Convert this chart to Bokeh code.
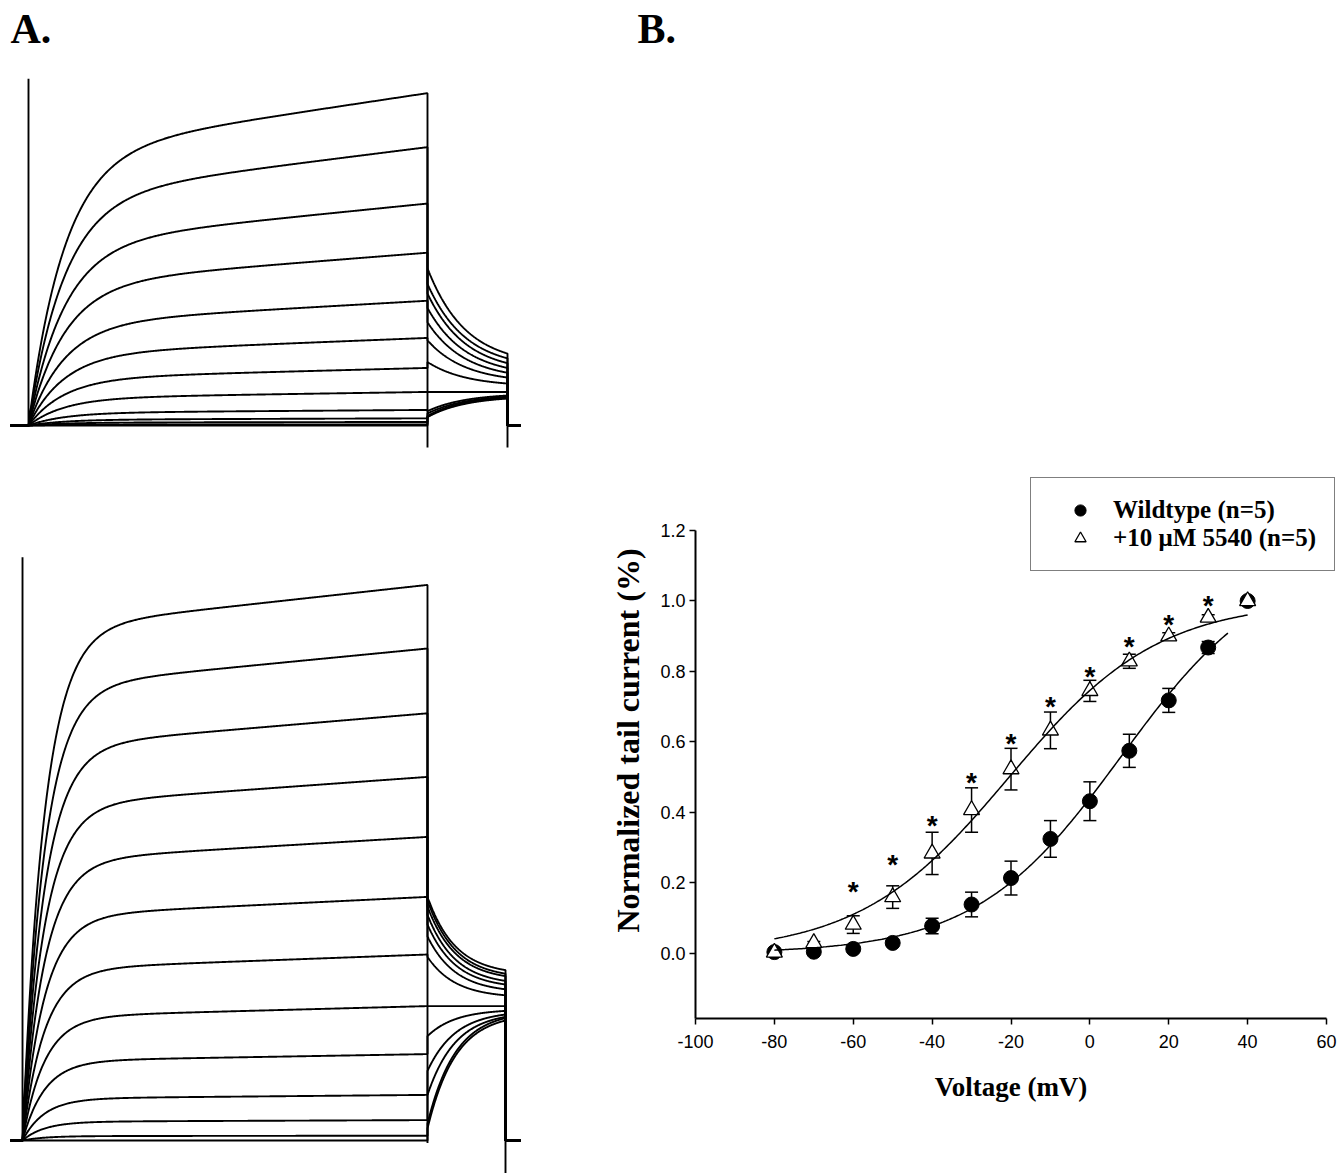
import numpy as np
from bokeh.plotting import figure
from bokeh.models import (Range1d, FixedTicker, PrintfTickFormatter, Whisker, TeeHead, LinearAxis,
                          ColumnDataSource, Label, Legend, LegendItem)
from bokeh.core.properties import value
from bokeh.embed import file_html
from bokeh.resources import INLINE

# ---------------- Panel B data ----------------
voltage = [-80, -70, -60, -50, -40, -30, -20, -10, 0, 10, 20, 30, 40]
wt_mean = [0.004, 0.005, 0.013, 0.030, 0.078, 0.139, 0.214, 0.325, 0.432, 0.575, 0.718, 0.868, 1.0]
wt_sem = [0.003, 0.004, 0.005, 0.008, 0.022, 0.035, 0.048, 0.052, 0.055, 0.047, 0.034, 0.017, 0.0]
drug_mean = [0.003, 0.030, 0.082, 0.160, 0.284, 0.407, 0.523, 0.633, 0.745, 0.829, 0.900, 0.953, 1.0]
drug_sem = [0.004, 0.004, 0.025, 0.032, 0.060, 0.063, 0.059, 0.052, 0.030, 0.020, 0.010, 0.008, 0.0]
star_voltage = [-60, -50, -40, -30, -20, -10, 0, 10, 20, 30]
star_height = [0.195, 0.273, 0.382, 0.506, 0.617, 0.720, 0.807, 0.891, 0.952, 1.008]
# Boltzmann fit parameters
wt_fit = dict(amp=1.12, vhalf=8.0, k=18.5, vmin=-80, vmax=35)
drug_fit = dict(amp=1.00, vhalf=-20.5, k=19.0, vmin=-80, vmax=40)
x_ticks = [-100, -80, -60, -40, -20, 0, 20, 40, 60]
y_ticks = [0.0, 0.2, 0.4, 0.6, 0.8, 1.0, 1.2]
y_axis_bottom = -0.184
legend_labels = ["Wildtype (n=5)", "+10 \u03bcM 5540 (n=5)"]

# ---------------- Panel A data (current families, nA) ----------------
wt_step_end = [2.77, 2.32, 1.85, 1.44, 1.04, 0.73, 0.48, 0.28, 0.13, 0.06, 0.03, 0.01, 0.00]
wt_tail_start = [1.31, 1.18, 1.10, 0.98, 0.86, 0.71, 0.53, 0.28, 0.12, 0.10, 0.08, 0.075, 0.07]
wt_tail_end = [0.60, 0.56, 0.52, 0.48, 0.44, 0.40, 0.35, 0.28, 0.25, 0.24, 0.235, 0.23, 0.225]
drug_step_end = [4.63, 4.10, 3.56, 3.03, 2.53, 2.03, 1.55, 1.12, 0.72, 0.38, 0.17, 0.04, 0.00]
drug_tail_start = [2.03, 2.00, 1.95, 1.88, 1.80, 1.70, 1.53, 1.12, 0.87, 0.58, 0.38, 0.14, 0.10]
drug_tail_end = [1.42, 1.39, 1.37, 1.33, 1.30, 1.26, 1.21, 1.12, 1.08, 1.05, 1.03, 1.02, 1.00]
# kinetics (ms) and capacitive transients (nA)
wt_kin = dict(t0=0, step=2000, tail=401, after=65, act_tau=180, drift=0.18, tail_tau=190,
              spikes=(2.89, -0.183, -0.183))
drug_kin = dict(t0=-30, step=2030, tail=391, after=75, act_tau=110, drift=0.08, tail_tau=140,
                spikes=(4.86, -0.02, -0.30))
panel_offset = dict(wt=5.958, drug=0.0)


def family(step_end, tail_start, tail_end, kin, offset):
    xs, ys = [], []
    t0, dur, tdur = kin["t0"], kin["step"], kin["tail"]
    tau, drift, ttau = kin["act_tau"], kin["drift"], kin["tail_tau"]
    for i, (a, ts, te) in enumerate(zip(step_end, tail_start, tail_end)):
        t_act = np.linspace(0, dur, 500)
        f = (1 - drift) * (1 - np.exp(-t_act / tau)) / (1 - np.exp(-dur / tau)) + drift * t_act / dur
        i_act = a * f
        t_tail = np.linspace(0, tdur, 200)
        g = (np.exp(-t_tail / ttau) - np.exp(-tdur / ttau)) / (1 - np.exp(-tdur / ttau))
        i_tail = te + (ts - te) * g
        x = [-90.0, t0]
        y = [0.0, 0.0]
        if i == 0:
            x += [t0, t0]
            y += [kin["spikes"][0], 0.0]
        x += list(t0 + t_act)
        y += list(i_act)
        t1 = t0 + dur
        if i == 0:
            x += [t1]
            y += [kin["spikes"][1]]
        x += list(t1 + t_tail)
        y += list(i_tail)
        t2 = t1 + tdur
        if i == 0:
            x += [t2]
            y += [kin["spikes"][2]]
        x += [t2, t2 + kin["after"]]
        y += [0.0, 0.0]
        xs.append(x)
        ys.append(list(np.array(y) + offset))
    return xs, ys


# ---------------- one page-sized figure ----------------
p = figure(width=1337, height=1173, x_range=Range1d(-276.23, 62.789), y_range=Range1d(-0.6241, 2.7035),
           x_axis_location=None, y_axis_location=None, toolbar_location=None, output_backend="svg",
           min_border=0, outline_line_color=None)
p.grid.visible = False
p.extra_x_ranges = {"time": Range1d(-140.35, 6561.4)}
p.extra_y_ranges = {"amp": Range1d(-0.275, 9.5)}

# Panel A: current families
xs1, ys1 = family(wt_step_end, wt_tail_start, wt_tail_end, wt_kin, panel_offset["wt"])
xs2, ys2 = family(drug_step_end, drug_tail_start, drug_tail_end, drug_kin, panel_offset["drug"])
p.multi_line(xs=xs1 + xs2, ys=ys1 + ys2, line_color="black", line_width=1.9,
             x_range_name="time", y_range_name="amp")

p.add_layout(Label(x=-90.2, y=9.2625, x_range_name="time", y_range_name="amp", text="A.",
                   text_font="Liberation Serif", text_font_style="bold", text_font_size="42px",
                   text_baseline="middle", text_align="left", text_color="black"))

# Panel B axes
xax = LinearAxis(fixed_location=y_axis_bottom, bounds=(x_ticks[0], x_ticks[-1]),
                 ticker=FixedTicker(ticks=x_ticks), formatter=PrintfTickFormatter(format="%d"))
yax = LinearAxis(fixed_location=x_ticks[0], bounds=(y_axis_bottom, y_ticks[-1]),
                 ticker=FixedTicker(ticks=y_ticks), formatter=PrintfTickFormatter(format="%.1f"))
for ax in (xax, yax):
    ax.axis_line_width = 2
    ax.axis_line_color = "black"
    ax.major_tick_line_width = 1.5
    ax.major_tick_line_color = "black"
    ax.major_tick_out = 6
    ax.major_tick_in = 0
    ax.minor_tick_line_color = None
    ax.major_label_text_font = "Liberation Sans"
    ax.major_label_text_font_size = "18px"
    ax.major_label_text_color = "black"
xax.major_label_standoff = 11
yax.major_label_standoff = 4
xax.axis_label = "Voltage (mV)"
xax.axis_label_text_font = "Liberation Serif"
xax.axis_label_text_font_style = "bold"
xax.axis_label_text_font_size = "27px"
xax.axis_label_text_color = "black"
xax.axis_label_standoff = 20
p.add_layout(xax, "below")
p.add_layout(yax, "left")

src_wt = ColumnDataSource(dict(v=voltage, m=wt_mean,
                               lo=[m - e for m, e in zip(wt_mean, wt_sem)],
                               hi=[m + e for m, e in zip(wt_mean, wt_sem)]))
src_dr = ColumnDataSource(dict(v=voltage, m=drug_mean,
                               lo=[m - e for m, e in zip(drug_mean, drug_sem)],
                               hi=[m + e for m, e in zip(drug_mean, drug_sem)]))

for src in (src_wt, src_dr):
    w = Whisker(source=src, base="v", lower="lo", upper="hi", line_width=1.5, line_color="black",
                upper_head=TeeHead(size=13, line_width=1.5, line_color="black"),
                lower_head=TeeHead(size=13, line_width=1.5, line_color="black"),
                level="underlay")
    p.add_layout(w)

r_wt = p.scatter("v", "m", source=src_wt, marker="circle", size=15,
                 fill_color="black", line_color="black")
r_dr = p.scatter("v", "m", source=src_dr, marker="triangle", size=16,
                 fill_color="white", line_color="black", line_width=1.3)

for fit in (wt_fit, drug_fit):
    vv = np.linspace(fit["vmin"], fit["vmax"], 300)
    yy = fit["amp"] / (1 + np.exp((fit["vhalf"] - vv) / fit["k"]))
    p.line(vv, yy, line_color="black", line_width=1.5)

p.text(x=star_voltage, y=star_height, text=["*"] * len(star_voltage),
       text_font=value("Liberation Sans"), text_font_style="bold", text_font_size="28px",
       text_align="center", text_baseline="middle", y_offset=7, text_color="black")

legend = Legend(items=[LegendItem(label=legend_labels[0], renderers=[r_wt]),
                       LegendItem(label=legend_labels[1], renderers=[r_dr])],
                location=(1030, 602), margin=0, padding=18, spacing=0,
                glyph_width=62, glyph_height=28, label_height=28, label_standoff=2,
                label_text_font="Liberation Serif", label_text_font_style="bold",
                label_text_font_size="25px", label_text_color="black",
                border_line_color="black", border_line_width=1.5,
                background_fill_color="white", background_fill_alpha=1.0)
p.add_layout(legend)

p.add_layout(Label(x=-114.71, y=2.6226, text="B.", text_font="Liberation Serif", text_font_style="bold",
                   text_font_size="42px", text_baseline="middle", text_align="left", text_color="black"))
p.add_layout(Label(x=-116.99, y=0.6042, text="Normalized tail current (%)", angle=np.pi / 2,
                   text_font="Liberation Serif", text_font_style="bold", text_font_size="32px",
                   text_baseline="middle", text_align="center", text_color="black"))

open("out.html", "w").write(file_html(p, INLINE))
